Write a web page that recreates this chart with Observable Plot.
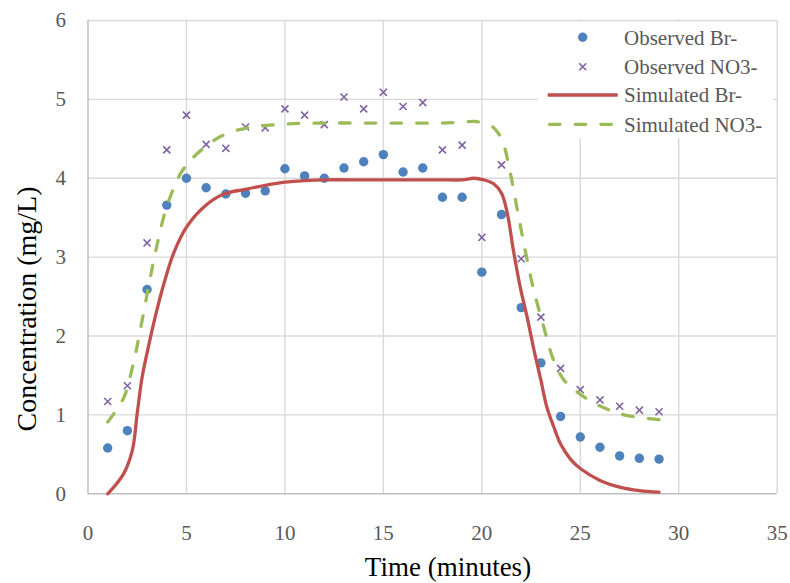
<!DOCTYPE html>
<html><head><meta charset="utf-8">
<script src="https://cdn.jsdelivr.net/npm/d3@7"></script>
<script src="https://cdn.jsdelivr.net/npm/@observablehq/plot@0.6"></script>
<style>
body{margin:0;background:#fff}
#chart{position:relative;width:790px;height:583px;overflow:hidden}
#chart svg text, #chart svg tspan{font-family:"Liberation Serif","Times New Roman",serif !important;}
</style>
</head><body><div id="chart"></div>
<script>
// Observed data (time in minutes)
const obsTime = [1,2,3,4,5,6,7,8,9,10,11,12,13,14,15,16,17,18,19,20,21,22,23,24,25,26,27,28,29];
const obsBr  = [0.58,0.80,2.59,3.66,4.00,3.88,3.80,3.81,3.84,4.12,4.03,4.00,4.13,4.21,4.30,4.08,4.13,3.76,3.76,2.81,3.54,2.36,1.66,0.98,0.72,0.59,0.48,0.45,0.44];
const obsNO3 = [1.17,1.37,3.18,4.36,4.80,4.43,4.38,4.65,4.64,4.88,4.80,4.68,5.03,4.88,5.09,4.91,4.96,4.36,4.42,3.25,4.17,2.98,2.24,1.59,1.32,1.19,1.11,1.06,1.04];

// Simulated curves
const simBrTime = [1,1.8,2.25,2.5,2.75,3.1,3.45,3.85,4.35,5,5.9,6.9,8,9,10,11,12,14,16,18,19,19.6,20.1,20.6,21,21.3,21.6,21.95,22.3,22.65,23,23.3,23.65,24,24.5,25,26,27,28,29];
const simBr     = [0,0.25,0.55,1.02,1.48,1.90,2.28,2.66,3.05,3.38,3.64,3.80,3.86,3.91,3.95,3.97,3.98,3.98,3.98,3.98,3.98,4.00,3.98,3.93,3.81,3.55,3.09,2.62,2.24,1.82,1.44,1.10,0.85,0.63,0.44,0.32,0.17,0.085,0.04,0.02];
const simNO3Time = [1,1.8,2.3,2.65,3.1,3.45,4.0,4.75,5.45,6.4,7.1,8.1,9.1,10.1,12,14,16,18,19,19.65,20.5,21.0,21.45,21.8,22.2,22.6,23.15,23.65,24.15,24.8,25.7,26.5,27.4,29];
const simNO3     = [0.91,1.21,1.65,2.07,2.66,3.09,3.64,4.08,4.29,4.48,4.57,4.64,4.67,4.69,4.70,4.70,4.70,4.70,4.71,4.72,4.66,4.50,4.06,3.60,3.09,2.62,2.11,1.69,1.45,1.30,1.15,1.06,0.99,0.94];

const xTicks = [0,5,10,15,20,25,30,35];
const yTicks = [0,1,2,3,4,5,6];
const xTitle = "Time (minutes)";
const yTitle = "Concentration (mg/L)";
const seriesNames = ["Observed Br-","Observed NO3-","Simulated Br-","Simulated NO3-"];
const colors = {br:"#4F81BD", no3:"#8064A2", simBr:"#C0504D", simNO3:"#9BBB59"};

const obs = obsTime.map((t,i)=>({t, br:obsBr[i], no3:obsNO3[i]}));
const sBr = simBrTime.map((t,i)=>({t, v:simBr[i]}));
const sNO3 = simNO3Time.map((t,i)=>({t, v:simNO3[i]}));

const font = "Liberation Serif, Times New Roman, serif";
const dash = "10.5,15.2";

const plot = Plot.plot({
  width:790, height:583,
  marginLeft:87.5, marginRight:13.3, marginTop:20, marginBottom:89.7,
  style:{fontSize:"21px", color:"#595959", background:"#fff", overflow:"visible"},
  x:{domain:[0,35]},
  y:{domain:[0,6]},
  marks:[
    Plot.ruleX(xTicks.filter(d=>d>0), {stroke:"#d9d9d9", strokeWidth:1.4}),
    Plot.ruleY(yTicks.filter(d=>d>0), {stroke:"#d9d9d9", strokeWidth:1.4}),
    Plot.ruleX([0], {stroke:"#bfbfbf", strokeWidth:1.5}),
    Plot.ruleY([0], {stroke:"#bfbfbf", strokeWidth:1.5}),
    Plot.axisX({ticks:xTicks, tickSize:0, tickPadding:31, label:null, fill:"#595959", tickFormat:d=>String(d), fontFamily:font}),
    Plot.axisY({ticks:yTicks, tickSize:0, tickPadding:22, label:null, fill:"#595959", tickFormat:d=>String(d), fontFamily:font}),
    Plot.dot(obs, {x:"t", y:"br", r:4.7, fill:colors.br, stroke:"none"}),
    Plot.dot(obs, {x:"t", y:"no3", symbol:"times", r:3.3, stroke:colors.no3, strokeWidth:1.6}),
    Plot.line(sBr, {x:"t", y:"v", stroke:colors.simBr, strokeWidth:3.3, curve:"catmull-rom"}),
    Plot.line(sNO3, {x:"t", y:"v", stroke:colors.simNO3, strokeWidth:3.3, curve:"catmull-rom", strokeDasharray:dash, strokeLinecap:"round"})
  ]
});
document.getElementById("chart").appendChild(plot);

const svg = d3.select(plot);
svg.selectAll("text").attr("font-family", font).style("font-family", font);
// axis titles
svg.append("text").attr("x",448).attr("y",575.5).attr("text-anchor","middle")
  .attr("font-family",font).attr("font-size",27).attr("fill","#000").text(xTitle);
svg.append("text").attr("transform","translate(36,309) rotate(-90)").attr("text-anchor","middle")
  .attr("font-family",font).attr("font-size",28).attr("fill","#000").text(yTitle);

// legend
const lg = svg.append("g");
lg.append("rect").attr("x",538).attr("y",22).attr("width",235).attr("height",116).attr("fill","#fff");
const rowsY = [37.3,66.7,95,124.3];
lg.append("circle").attr("cx",582.7).attr("cy",rowsY[0]).attr("r",4.7).attr("fill",colors.br);
const xs = 3.5;
lg.append("path").attr("d",`M${582.7-xs},${rowsY[1]-xs}L${582.7+xs},${rowsY[1]+xs}M${582.7-xs},${rowsY[1]+xs}L${582.7+xs},${rowsY[1]-xs}`)
  .attr("stroke",colors.no3).attr("stroke-width",1.6).attr("fill","none");
lg.append("line").attr("x1",547.7).attr("x2",617.7).attr("y1",rowsY[2]).attr("y2",rowsY[2])
  .attr("stroke",colors.simBr).attr("stroke-width",3.3);
lg.append("line").attr("x1",549.5).attr("x2",617.7).attr("y1",rowsY[3]).attr("y2",rowsY[3])
  .attr("stroke",colors.simNO3).attr("stroke-width",3.3).attr("stroke-dasharray",dash).attr("stroke-linecap","round");
seriesNames.forEach((s,i)=>{
  lg.append("text").attr("x",624).attr("y",rowsY[i]).attr("dy","0.35em").attr("text-anchor","start")
    .attr("font-family",font).attr("font-size",21).attr("fill","#595959").text(s);
});
</script>
</body></html>
